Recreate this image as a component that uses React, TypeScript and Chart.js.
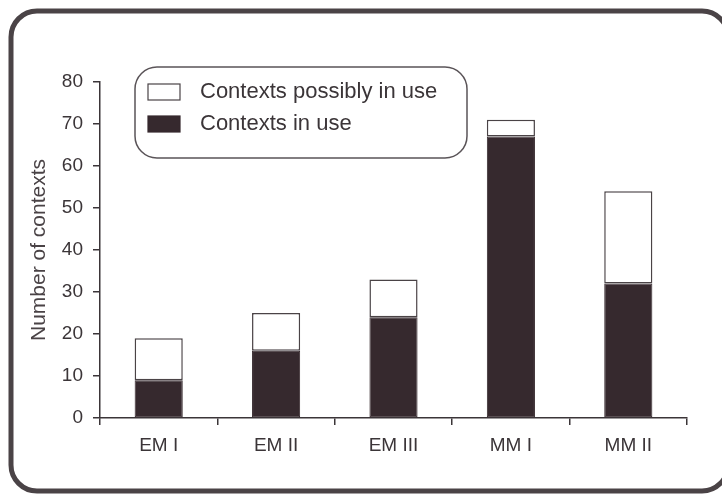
import React, { useEffect, useRef } from "react";
import { Chart, registerables } from "chart.js";

Chart.register(...registerables);

const categories = ["EM I", "EM II", "EM III", "MM I", "MM II"];
const contextsInUse = [9, 16, 24, 67, 32];
const contextsPossiblyInUse = [10, 9, 9, 4, 22];
const yMin = 0;
const yMax = 80;
const yStep = 10;

const INK = "#3b3538";
const DARK = "#36292e";
const FRAME = "#4a4346";
const FONT = "'Liberation Sans', Arial, Helvetica, sans-serif";

const framePlugin = {
  id: "frame",
  beforeDraw(chart: any) {
    const ctx = chart.ctx;
    ctx.save();
    ctx.fillStyle = "#ffffff";
    ctx.fillRect(0, 0, chart.width, chart.height);
    ctx.lineWidth = 5;
    ctx.strokeStyle = FRAME;
    ctx.beginPath();
    ctx.roundRect(11, 11, 717, 480, 26);
    ctx.stroke();
    ctx.restore();
  },
};

const boxLegendPlugin = {
  id: "boxLegend",
  afterDraw(chart: any) {
    const ctx = chart.ctx;
    const area = chart.chartArea;
    const x0 = area.left + 35;
    const y0 = area.top - 15;
    ctx.save();
    ctx.lineWidth = 1.5;
    ctx.strokeStyle = "#5a5458";
    ctx.beginPath();
    ctx.roundRect(x0, y0, 332, 91, 22);
    ctx.stroke();
    const order = [1, 0];
    ctx.font = `22px ${FONT}`;
    ctx.textBaseline = "middle";
    ctx.textAlign = "left";
    order.forEach((di, i) => {
      const ds = chart.data.datasets[di];
      const by = y0 + 17 + i * 32;
      ctx.fillStyle = ds.backgroundColor;
      ctx.fillRect(x0 + 13, by, 32, 16);
      ctx.lineWidth = 1.2;
      ctx.strokeStyle = ds.borderColor;
      ctx.strokeRect(x0 + 13, by, 32, 16);
      ctx.fillStyle = INK;
      ctx.fillText(ds.label, x0 + 65, by + 8);
    });
    ctx.restore();
  },
};

export default function App() {
  const ref = useRef<HTMLCanvasElement | null>(null);

  useEffect(() => {
    if (!ref.current) return;
    const chart = new Chart(ref.current, {
      type: "bar",
      data: {
        labels: categories,
        datasets: [
          {
            label: "Contexts in use",
            data: contextsInUse,
            backgroundColor: DARK,
            borderColor: DARK,
            borderWidth: 1,
            borderSkipped: false,
            barPercentage: 0.41,
            categoryPercentage: 1,
          },
          {
            label: "Contexts possibly in use",
            data: contextsPossiblyInUse,
            backgroundColor: "#ffffff",
            borderColor: FRAME,
            borderWidth: 1.5,
            borderSkipped: false,
            barPercentage: 0.41,
            categoryPercentage: 1,
          },
        ],
      },
      options: {
        responsive: false,
        animation: false,
        devicePixelRatio: 1,
        layout: { padding: { top: 82, right: 35, left: 8, bottom: 0 } },
        plugins: {
          legend: { display: false },
          tooltip: { enabled: false },
        },
        scales: {
          x: {
            stacked: true,
            grid: {
              offset: true,
              drawOnChartArea: false,
              drawTicks: true,
              tickLength: 7,
              color: INK,
              lineWidth: 1.5,
            },
            border: { color: INK, width: 1.5 },
            ticks: { color: INK, font: { family: FONT, size: 19 }, padding: 9 },
            afterFit: (s: any) => {
              s.height = 78;
            },
          },
          y: {
            stacked: true,
            min: yMin,
            max: yMax,
            ticks: {
              stepSize: yStep,
              color: INK,
              font: { family: FONT, size: 19 },
              padding: 10,
            },
            grid: {
              drawOnChartArea: false,
              drawTicks: true,
              tickLength: 7,
              color: INK,
              lineWidth: 1.5,
            },
            border: { color: INK, width: 1.5 },
            title: {
              display: true,
              text: "Number of contexts",
              color: "#4a4346",
              font: { family: FONT, size: 21 },
              padding: { top: 19, bottom: 0 },
            },
            afterFit: (s: any) => {
              s.width = 92;
            },
          },
        },
      },
      plugins: [framePlugin, boxLegendPlugin],
    });
    return () => chart.destroy();
  }, []);

  return (
    <canvas
      ref={ref}
      width={722}
      height={496}
      style={{ display: "block", position: "fixed", left: 0, top: 0 }}
    />
  );
}
